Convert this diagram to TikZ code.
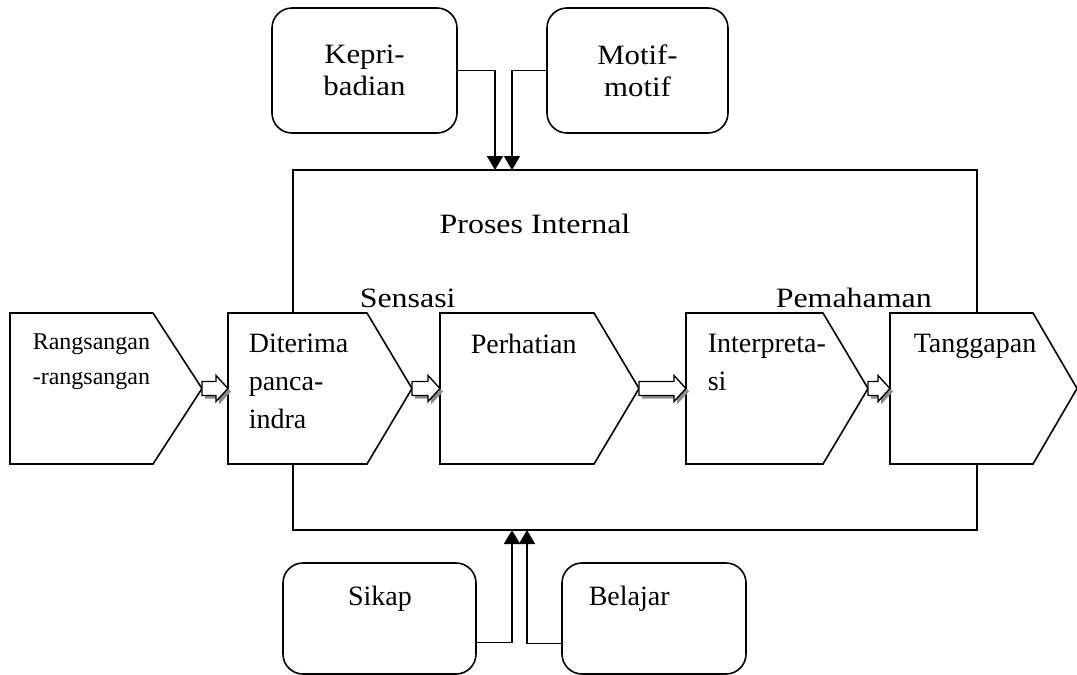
\documentclass[tikz,border=0pt]{standalone}
\usepackage{fontspec}
\setmainfont{Liberation Serif}
\newfontfamily\widefont[FakeStretch=1.14]{Liberation Serif}
\newfontfamily\boxfont[FakeStretch=1.1]{Liberation Serif}
\usetikzlibrary{arrows.meta,calc}

\newcommand{\blockarr}[2]{%
  \fill[arrshade] let \p1=($(#1)+(1.5pt,-1.5pt)$), \p2=($(#2)+(1.5pt,-1.5pt)$) in
    (\x1,\y1+3.5pt) -- (\x2-6pt,\y1+3.5pt) -- (\x2-6pt,\y1+6.5pt) -- (\x2,\y1)
    -- (\x2-6pt,\y1-6.5pt) -- (\x2-6pt,\y1-3.5pt) -- (\x1,\y1-3.5pt) -- cycle;
  \filldraw[arrbody] let \p1=(#1), \p2=(#2) in
    (\x1,\y1+3.5pt) -- (\x2-6pt,\y1+3.5pt) -- (\x2-6pt,\y1+6.5pt) -- (\x2,\y1)
    -- (\x2-6pt,\y1-6.5pt) -- (\x2-6pt,\y1-3.5pt) -- (\x1,\y1-3.5pt) -- cycle;}

\begin{document}
\begin{tikzpicture}[x=0.5pt,y=-0.5pt,line width=0.8pt,
    every node/.style={font=\fontsize{14}{19}\selectfont},
    softbox/.style={draw,rounded corners=10pt,fill=white,align=center,inner sep=0pt},
    chev/.style={draw,fill=white,line join=miter},
    lbl/.style={inner sep=0pt,anchor=north west,align=left},
    head/.style={inner sep=0pt,font=\widefont\fontsize{14}{19}\selectfont},
    feed/.style={-{Triangle[length=7pt,width=8pt]}},
    arrbody/.style={draw,fill=white,line width=0.7pt},
    arrshade/.style={fill=black!45}]
  \useasboundingbox (0,0) rectangle (1077,675);

  % proses internal
  \node[draw,minimum width=342pt,minimum height=180pt,inner sep=0pt] (internal) at (635,350) {};
  \node[head,anchor=base] (proses) at (535,233) {Proses Internal};
  \node[head,anchor=base west] (sensasi) at (359,307) {Sensasi};
  \node[head,anchor=base west] (paham) at (775,307) {Pemahaman};

  % faktor
  \node[softbox,minimum width=92.5pt,minimum height=62.5pt,font=\boxfont\fontsize{14}{16}\selectfont]
    (kepri) at (364.5,70.5) {Kepri-\\badian};
  \node[softbox,minimum width=90.5pt,minimum height=62.5pt,font=\boxfont\fontsize{14}{16}\selectfont]
    (motif) at (637.5,70.5) {Motif-\\motif};
  \node[softbox,minimum width=96.5pt,minimum height=55.5pt] (sikap) at (379.5,618.5) {};
  \node[softbox,minimum width=92pt,minimum height=55.5pt] (belajar) at (654,618.5) {};
  \node[anchor=base,inner sep=0pt] (sikap-t) at (380,605) {Sikap};
  \node[anchor=base west,inner sep=0pt] (belajar-t) at (588,605) {Belajar};

  \coordinate (k-in) at (495,170);
  \coordinate (m-in) at (512,170);
  \coordinate (s-in) at (512,530);
  \coordinate (b-in) at (527,530);
  \draw[feed] (kepri.east) -| (k-in);
  \draw[feed] (motif.west) -| (m-in);
  \draw[feed] ([yshift=-12pt]sikap.east) -| (s-in);
  \draw[feed] ([yshift=-12.5pt]belajar.west) -| (b-in);

  % tahapan
  \foreach \nm/\xa/\xb/\xc in {rang/10/153/202,terima/228/367/412,hati/440/594/639,
      interp/686/823/868,tangg/890/1033/1077} {
    \draw[chev] (\xa,313) -- (\xb,313) -- (\xc,388.5) -- (\xb,464) -- (\xa,464) -- cycle;
    \coordinate (\nm-w) at (\xa,388.5);
    \coordinate (\nm-tip) at (\xc,388.5);
  }
  \foreach \a/\b in {rang/terima,terima/hati,hati/interp,interp/tangg}
    \blockarr{\a-tip}{\b-w};

  \node[lbl,font=\fontsize{12}{17.5}\selectfont] (rang-t) at (32,333) {Rangsangan\\-rangsangan};
  \node[lbl] (terima-t) at (248,333) {Diterima\\panca-\\indra};
  \node[lbl] (hati-t) at (470,333) {Perhatian};
  \node[lbl] (interp-t) at (707,333) {Interpreta-\\si};
  \node[lbl] (tangg-t) at (913,333) {Tanggapan};
\end{tikzpicture}
\end{document}
